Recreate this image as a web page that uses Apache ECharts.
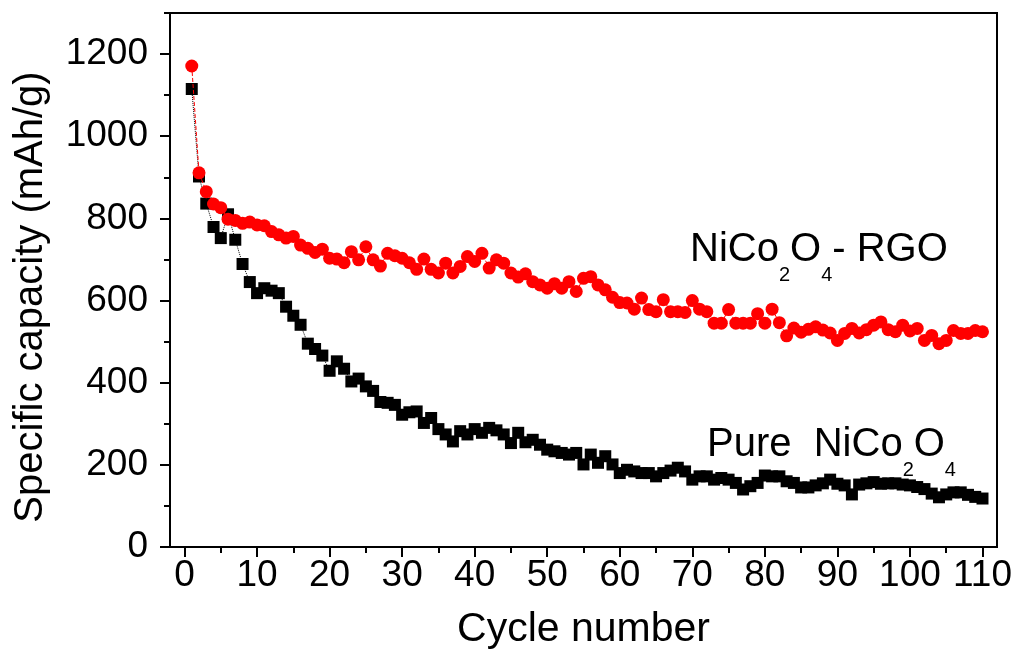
<!DOCTYPE html>
<html>
<head>
<meta charset="utf-8">
<script src="https://cdn.jsdelivr.net/npm/echarts@6/dist/echarts.min.js"></script>
<style>
html,body{margin:0;padding:0;background:#fff;}
#chart{width:1018px;height:650px;}
</style>
</head>
<body>
<div id="chart"></div>
<script>
// Cycle numbers (x values)
const cycles = Array.from({length: 110}, (_, i) => i + 1);

// Pure NiCo2O4 (black squares), mAh/g
const pureNiCo2O4 = [
  1115, 902, 836, 779, 752, 810, 748, 689, 645, 618,
  630, 624, 618, 585, 563, 541, 495, 482, 466, 429,
  452, 434, 403, 410, 391, 380, 353, 351, 346, 322,
  328, 330, 302, 314, 287, 274, 257, 282, 274, 287,
  278, 290, 284, 274, 253, 278, 255, 261, 249, 237,
  233, 229, 225, 229, 201, 225, 205, 221, 201, 180,
  188, 184, 180, 180, 172, 180, 186, 193, 184, 164,
  172, 172, 164, 168, 164, 156, 140, 148, 156, 174,
  172, 172, 160, 156, 145, 145, 150, 155, 164, 154,
  150, 128, 152, 155, 158, 154, 155, 155, 152, 150,
  146, 141, 130, 121, 128, 133, 133, 127, 122, 118
];

// NiCo2O4-RGO (red circles), mAh/g
const niCo2O4RGO = [
  1171, 911, 865, 835, 826, 798, 795, 788, 791, 784,
  782, 768, 760, 752, 756, 735, 727, 717, 725, 703,
  701, 692, 719, 699, 731, 699, 684, 715, 709, 703,
  692, 676, 701, 676, 667, 691, 667, 683, 707, 695,
  715, 679, 699, 691, 667, 657, 665, 646, 638, 630,
  641, 630, 646, 622, 654, 658, 638, 626, 608, 595,
  594, 579, 606, 578, 573, 602, 573, 573, 571, 600,
  579, 573, 545, 545, 578, 545, 545, 545, 568, 545,
  579, 546, 514, 533, 523, 530, 536, 528, 521, 503,
  520, 532, 521, 529, 540, 548, 529, 524, 540, 526,
  532, 503, 515, 495, 503, 527, 520, 520, 527, 524
];

// Tick values
const xMajorTicks = [0, 10, 20, 30, 40, 50, 60, 70, 80, 90, 100, 110];
const xMinorTicks = [5, 15, 25, 35, 45, 55, 65, 75, 85, 95, 105];
const yMajorTicks = [0, 200, 400, 600, 800, 1000, 1200];
const yMinorTicks = [100, 300, 500, 700, 900, 1100, 1300];

const FONT = 'Liberation Sans, Arial, sans-serif';

const pureData = cycles.map((c, i) => [c, pureNiCo2O4[i]]);
const rgoData = cycles.map((c, i) => [c, niCo2O4RGO[i]]);

const chart = echarts.init(document.getElementById('chart'), null, {renderer: 'canvas'});

const baseX = {
  type: 'value', min: -2, max: 112, gridIndex: 0,
  splitLine: {show: false}
};
const baseY = {
  type: 'value', min: 0, max: 1300, gridIndex: 0,
  splitLine: {show: false}
};

const richStyles = {
  a: {fontFamily: FONT, fontSize: 40, lineHeight: 46, verticalAlign: 'top', fill: '#000'},
  s: {fontFamily: FONT, fontSize: 20, lineHeight: 20, padding: [35, 0, 0, 0], verticalAlign: 'top', fill: '#000'}
};

const option = {
  backgroundColor: '#fff',
  animation: false,
  grid: {
    left: 170, right: 21, top: 13, bottom: 103,
    containLabel: false,
    outerBoundsMode: 'none',
    show: true, borderColor: '#000', borderWidth: 2, backgroundColor: 'transparent'
  },
  xAxis: [
    Object.assign({}, baseX, {
      name: 'Cycle number',
      nameLocation: 'middle',
      nameGap: 62,
      nameTextStyle: {fontFamily: FONT, fontSize: 41, color: '#000'},
      axisLine: {show: true, onZero: false, lineStyle: {color: '#000', width: 2}},
      axisTick: {show: true, inside: false, length: 10, customValues: xMajorTicks, lineStyle: {color: '#000', width: 2}},
      axisLabel: {show: true, customValues: xMajorTicks, margin: 10, fontFamily: FONT, fontSize: 37, color: '#000',
        formatter: v => String(v)}
    }),
    Object.assign({}, baseX, {
      axisLine: {show: false, onZero: false},
      axisTick: {show: true, inside: false, length: 6, customValues: xMinorTicks, lineStyle: {color: '#000', width: 2}},
      axisLabel: {show: false},
      position: 'bottom'
    })
  ],
  yAxis: [
    Object.assign({}, baseY, {
      axisLine: {show: true, onZero: false, lineStyle: {color: '#000', width: 2}},
      axisTick: {show: true, inside: false, length: 10, customValues: yMajorTicks, lineStyle: {color: '#000', width: 2}},
      axisLabel: {show: true, customValues: yMajorTicks, margin: 22, fontFamily: FONT, fontSize: 37, color: '#000',
        formatter: v => String(v)}
    }),
    Object.assign({}, baseY, {
      axisLine: {show: false, onZero: false},
      axisTick: {show: true, inside: false, length: 6, customValues: yMinorTicks, lineStyle: {color: '#000', width: 2}},
      axisLabel: {show: false},
      position: 'left'
    })
  ],
  series: [
    {
      name: 'Pure NiCo2O4',
      type: 'line',
      xAxisIndex: 0, yAxisIndex: 0,
      data: pureData,
      symbol: 'rect',
      symbolSize: 12,
      itemStyle: {color: '#000'},
      lineStyle: {color: '#000', width: 1, type: 'dotted'},
      z: 2
    },
    {
      name: 'NiCo2O4-RGO',
      type: 'line',
      xAxisIndex: 0, yAxisIndex: 0,
      data: rgoData,
      symbol: 'circle',
      symbolSize: 13,
      itemStyle: {color: '#ff0000'},
      lineStyle: {color: '#ff0000', width: 1, type: 'dashed'},
      z: 3
    }
  ],
  graphic: [
    {
      type: 'text',
      x: 31, y: 297,
      rotation: Math.PI / 2,
      style: {
        text: 'Specific capacity (mAh/g)',
        fontFamily: FONT, fontSize: 40, fill: '#000',
        align: 'center', verticalAlign: 'middle'
      }
    },
    {
      type: 'text',
      left: 690, top: 230,
      style: {
        text: '{a|NiCo}{s|2}{a|O}{s|4}{a|- RGO}',
        rich: richStyles
      }
    },
    {
      type: 'text',
      left: 707, top: 425,
      style: {
        text: '{a|Pure  NiCo}{s|2}{a|O}{s|4}',
        rich: richStyles
      }
    }
  ]
};

chart.setOption(option);
</script>
</body>
</html>
